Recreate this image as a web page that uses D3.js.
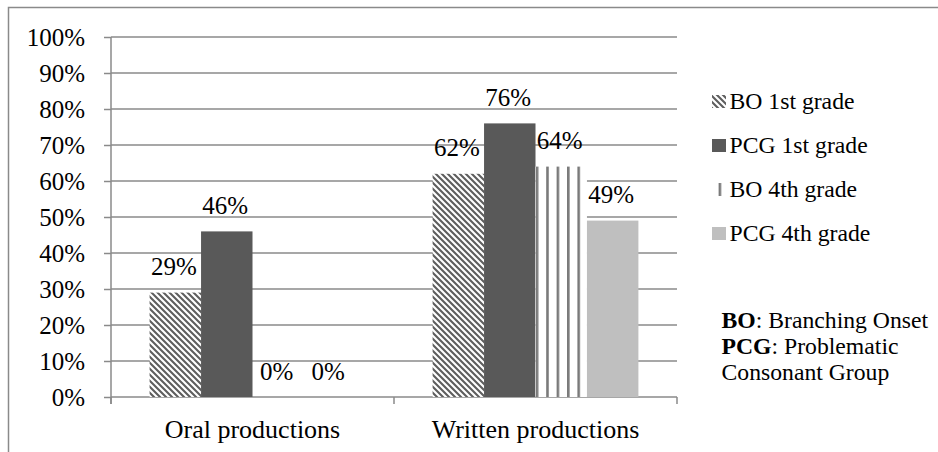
<!DOCTYPE html>
<html>
<head>
<meta charset="utf-8">
<script src="https://cdn.jsdelivr.net/npm/d3@7"></script>
<style>
  html, body { margin: 0; padding: 0; background: #fff; }
  svg { display: block; }
</style>
</head>
<body>
<svg id="chart" width="938" height="452"></svg>
<script>
// Share of productions per group, by task type
const categories = ["Oral productions", "Written productions"];
const seriesNames = ["BO 1st grade", "PCG 1st grade", "BO 4th grade", "PCG 4th grade"];
const bo1st  = [29, 62];
const pcg1st = [46, 76];
const bo4th  = [0, 64];
const pcg4th = [0, 49];
const yTicks = [0, 10, 20, 30, 40, 50, 60, 70, 80, 90, 100];

const seriesValues = [bo1st, pcg1st, bo4th, pcg4th];

const FONT = '"Liberation Serif"';
const svg = d3.select("#chart");
const W = 938, H = 452;
const plot = { left: 111, right: 677, top: 37, bottom: 397 };
const gray = "#8a8a8a";

function serif(sel, size) {
  return sel.style("font-family", FONT).style("font-size", size + "px").style("fill", "#000");
}

svg.append("rect").attr("width", W).attr("height", H).attr("fill", "#fff");

// Outer chart frame (runs past the right and bottom edge)
svg.append("rect")
  .attr("x", 8.5).attr("y", 7.5)
  .attr("width", W + 10).attr("height", H + 10)
  .attr("fill", "none").attr("stroke", gray).attr("stroke-width", 1.5);

// Fill patterns
const defs = svg.append("defs");
const diag = defs.append("pattern")
  .attr("id", "pat-diag").attr("patternUnits", "userSpaceOnUse")
  .attr("width", 6).attr("height", 6);
diag.append("rect").attr("width", 6).attr("height", 6).attr("fill", "#fff");
diag.append("path")
  .attr("d", "M-1,-1 L7,7 M-4,2 L2,8 M4,-2 L10,4")
  .attr("stroke", "#5e5e5e").attr("stroke-width", 2.1);

const vert = defs.append("pattern")
  .attr("id", "pat-vert").attr("patternUnits", "userSpaceOnUse")
  .attr("x", 537).attr("width", 10.4).attr("height", 10);
vert.append("rect").attr("width", 10.4).attr("height", 10).attr("fill", "#fff");
vert.append("rect").attr("x", 0).attr("width", 2.6).attr("height", 10).attr("fill", "#7a7a7a");

const fills = ["url(#pat-diag)", "#595959", "url(#pat-vert)", "#bfbfbf"];

// Scales
const x0 = d3.scaleBand().domain(categories).range([plot.left, plot.right])
  .paddingInner(0).paddingOuter(0);
const x1 = d3.scaleBand().domain(seriesNames).range([0, x0.bandwidth()])
  .paddingInner(0).paddingOuter(0.75);
const y = d3.scaleLinear().domain([0, 100]).range([plot.bottom, plot.top]);

// Horizontal gridlines
svg.append("g").selectAll("line")
  .data(yTicks.filter(d => d > 0))
  .join("line")
  .attr("x1", plot.left).attr("x2", plot.right)
  .attr("y1", d => y(d)).attr("y2", d => y(d))
  .attr("stroke", gray).attr("stroke-width", 1.5);

// Y axis
const yAxis = svg.append("g")
  .attr("transform", `translate(${plot.left},0)`)
  .call(d3.axisLeft(y).tickValues(yTicks).tickSize(7).tickPadding(19)
    .tickFormat(d => d + "%"));
yAxis.attr("font-family", null).attr("font-size", null);
yAxis.select(".domain").attr("stroke", gray).attr("stroke-width", 1.5)
  .attr("d", `M0,${plot.top}V${plot.bottom + 7}`);
yAxis.selectAll(".tick line").attr("stroke", gray).attr("stroke-width", 1.5);
serif(yAxis.selectAll(".tick text"), 25).attr("dy", "0.34em");

// X axis baseline and category boundary ticks
svg.append("line")
  .attr("x1", plot.left).attr("x2", plot.right)
  .attr("y1", plot.bottom).attr("y2", plot.bottom)
  .attr("stroke", gray).attr("stroke-width", 1.5);
const bounds = categories.map(c => x0(c)).concat([x0(categories[categories.length - 1]) + x0.bandwidth()]);
svg.append("g").selectAll("line").data(bounds).join("line")
  .attr("x1", d => d).attr("x2", d => d)
  .attr("y1", plot.bottom).attr("y2", plot.bottom + 7)
  .attr("stroke", gray).attr("stroke-width", 1.5);

serif(svg.append("g").selectAll("text").data(categories).join("text")
  .attr("x", d => x0(d) + x0.bandwidth() / 2)
  .attr("y", 438)
  .attr("text-anchor", "middle")
  .text(d => d), 26);

// Bars and value labels
const groups = svg.append("g").selectAll("g")
  .data(categories)
  .join("g")
  .attr("transform", d => `translate(${x0(d)},0)`);

groups.each(function(cat, ci) {
  const g = d3.select(this);
  const rows = seriesNames.map((s, si) => ({ s, si, v: seriesValues[si][ci] }));
  g.selectAll("rect").data(rows).join("rect")
    .attr("x", d => x1(d.s))
    .attr("y", d => y(d.v))
    .attr("width", x1.bandwidth())
    .attr("height", d => y(0) - y(d.v))
    .attr("fill", d => fills[d.si]);
  serif(g.selectAll("text").data(rows).join("text")
    .attr("x", d => x1(d.s) + x1.bandwidth() / 2 - 1.5)
    .attr("y", d => y(d.v) - 17.5)
    .attr("text-anchor", "middle")
    .text(d => d.v + "%"), 25);
});

// Legend
const legend = svg.append("g").attr("transform", "translate(712,0)");
const legendY = [101.5, 145.5, 189.5, 233.5];
seriesNames.forEach((name, i) => {
  legend.append("rect")
    .attr("x", 0).attr("y", legendY[i] - 6.5)
    .attr("width", 14).attr("height", 13)
    .attr("fill", fills[i]);
  serif(legend.append("text")
    .attr("x", 17.5).attr("y", legendY[i] + 7.5)
    .text(name), 23.7);
});

// Abbreviation notes
const n1 = serif(svg.append("text").attr("x", 721.5).attr("y", 328), 23.7);
n1.append("tspan").style("font-weight", "bold").text("BO");
n1.append("tspan").text(": Branching Onset");
const n2 = serif(svg.append("text").attr("x", 721.5).attr("y", 354), 23.7);
n2.append("tspan").style("font-weight", "bold").text("PCG");
n2.append("tspan").text(": Problematic");
serif(svg.append("text").attr("x", 721.5).attr("y", 380), 23.7).text("Consonant Group");
</script>
</body>
</html>
